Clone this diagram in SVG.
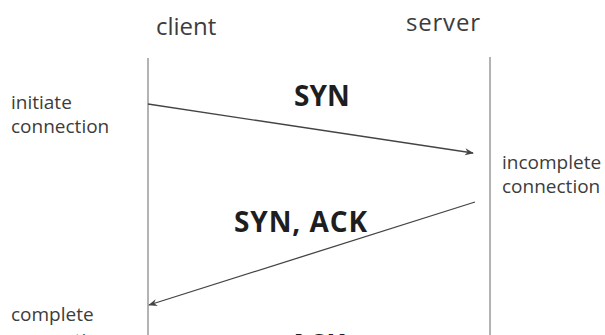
<svg xmlns="http://www.w3.org/2000/svg" width="605" height="335" viewBox="0 0 605 335">
<defs>
<style>
text{font-family:"Open Sans","Liberation Sans",sans-serif;fill:#3c3c3c}
.h{font-size:24px}
.n{font-size:19px}
.m{font-size:28px;font-weight:bold;fill:#1e1e1e}
.life{stroke:#8a8a8a;stroke-width:1.3;fill:none}
.msg{stroke:#444;stroke-width:1.3;fill:none;marker-end:url(#ah)}
</style>
<marker id="ah" viewBox="0 0 10 10" refX="9" refY="5" markerWidth="9" markerHeight="9" orient="auto" markerUnits="userSpaceOnUse">
<path d="M0,1 L10,5 L0,9 L3,5 Z" fill="#444"/>
</marker>
</defs>
<rect width="605" height="335" fill="#fff"/>
<g id="client">
<text class="h" x="156" y="35">client</text>
<line class="life" x1="148" y1="58" x2="148" y2="335"/>
</g>
<g id="server">
<text class="h" x="406" y="31" textLength="74">server</text>
<line class="life" x1="490" y1="57" x2="490" y2="335"/>
</g>
<g id="notes">
<text class="n" x="11" y="109">initiate</text>
<text class="n" x="11" y="133">connection</text>
<text class="n" x="502" y="169">incomplete</text>
<text class="n" x="502" y="193">connection</text>
<text class="n" x="11" y="321">complete</text>
<text class="n" x="11" y="347">connection</text>
</g>
<g id="connectors">
<line class="msg" x1="148" y1="104" x2="473" y2="153"/>
<text class="m" x="294" y="106">SYN</text>
<line class="msg" x1="475" y1="202" x2="149" y2="305"/>
<text class="m" x="234" y="232" textLength="133">SYN, ACK</text>
<text class="m" x="289" y="355">ACK</text>
</g>
</svg>
